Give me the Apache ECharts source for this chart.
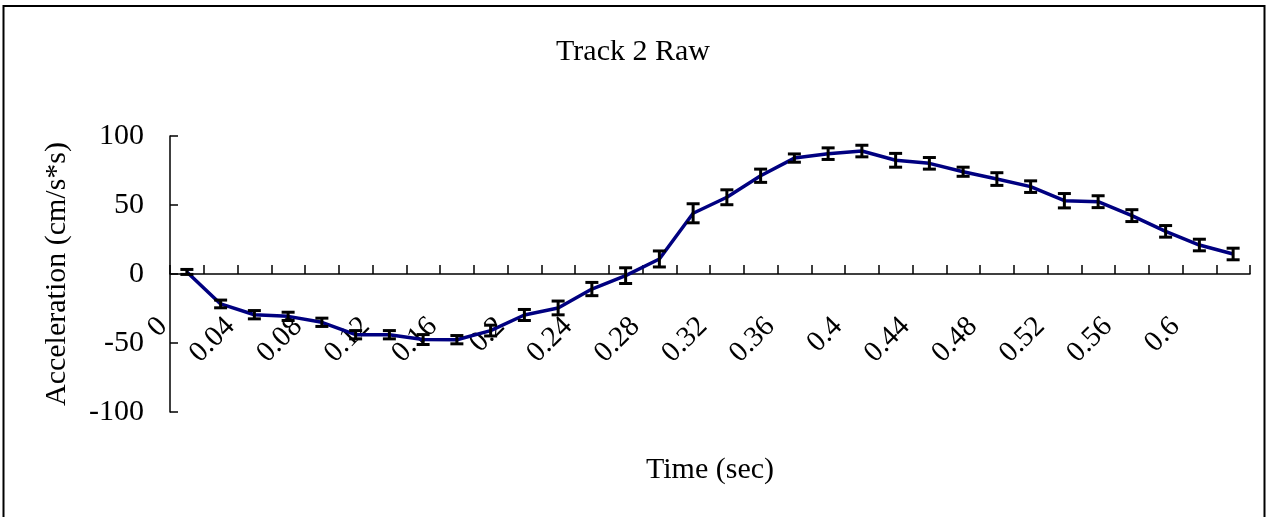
<!DOCTYPE html>
<html>
<head>
<meta charset="utf-8">
<script src="https://cdn.jsdelivr.net/npm/echarts@6/dist/echarts.min.js"></script>
<style>
html,body{margin:0;padding:0;background:#fff;}
#chart{width:1266px;height:517px;}
</style>
</head>
<body>
<div id="chart"></div>
<script>
const times = ['0','0.02','0.04','0.06','0.08','0.1','0.12','0.14','0.16','0.18','0.2','0.22','0.24','0.26','0.28','0.3','0.32','0.34','0.36','0.38','0.4','0.42','0.44','0.46','0.48','0.5','0.52','0.54','0.56','0.58','0.6','0.62'];
const accel = [1.5,-21.7,-29.5,-30.7,-35,-44,-44,-47.5,-47.6,-41,-29.7,-24.6,-10.9,-1.2,10.9,44,55.6,71.2,84,87.2,89.1,82.4,80.2,74.1,68.8,63.3,53.1,52.4,42.3,30.9,21,14.5];
const errs = [1.8,2.8,3,3,3,3,3,3.6,3,3.9,4,5,4.8,5.7,5.8,6.9,5.4,4.8,3,4.2,4.2,5,4.2,3.3,4.6,4.2,5.2,4.3,4.3,4.2,4.2,4.2];
const yTicks = [-100,-50,0,50,100];

const FONT = 'Liberation Serif';
const GRID = {left:170, right:16, top:136, bottom:105};
const H = 517;
const plotH = H - GRID.top - GRID.bottom;
const yMin = yTicks[0], yMax = yTicks[yTicks.length-1];
// move x axis up so it sits on the value-axis zero line
const zeroOffset = -plotH * (0 - yMin) / (yMax - yMin);

const chart = echarts.init(document.getElementById('chart'));
const errData = times.map((t,i)=>[i, accel[i], errs[i]]);

chart.setOption({
  backgroundColor:'#fff',
  animation:false,
  graphic:[{type:'rect', shape:{x:3.5,y:6,width:1261,height:530}, style:{fill:null, stroke:'#000', lineWidth:2}, silent:true, z:-1}],
  title:{text:'Track 2 Raw', left:'center', top:37, padding:0,
    textStyle:{fontFamily:FONT, fontSize:30, fontWeight:'normal', color:'#000'}},
  grid:Object.assign({containLabel:false, outerBoundsMode:'none'}, GRID),
  xAxis:{type:'category', data:times, boundaryGap:true, offset:zeroOffset,
    name:'Time (sec)', nameLocation:'middle', nameGap:181,
    nameTextStyle:{fontFamily:FONT, fontSize:30, color:'#000'},
    axisLine:{onZero:false, lineStyle:{color:'#000', width:1.5}},
    axisTick:{show:true, inside:true, length:9, interval:0, alignWithLabel:false, lineStyle:{color:'#000', width:1.5}},
    axisLabel:{interval:1, rotate:45, margin:24, padding:[0,34,0,0], fontFamily:FONT, fontSize:29, color:'#000'},
    splitLine:{show:false}},
  yAxis:{type:'value', min:yMin, max:yMax, interval:50,
    name:'Acceleration (cm/s*s)', nameLocation:'middle', nameGap:98,
    nameTextStyle:{fontFamily:FONT, fontSize:30, color:'#000'},
    axisLine:{show:true, onZero:false, lineStyle:{color:'#000', width:1.5}},
    axisTick:{show:true, inside:true, length:8, lineStyle:{color:'#000', width:1.5}},
    axisLabel:{margin:26, fontFamily:FONT, fontSize:30, color:'#000'},
    splitLine:{show:false}},
  series:[
    {type:'line', data:accel, symbol:'none', lineStyle:{color:'#000080', width:3.5}, z:2},
    {type:'custom', data:errData, encode:{x:0,y:1}, z:3,
      renderItem:function(params, api){
        const i = api.value(0), v = api.value(1), e = api.value(2);
        const hi = api.coord([i, v+e]);
        const lo = api.coord([i, v-e]);
        const hw = 6.5;
        const st = {stroke:'#000', lineWidth:3, fill:null};
        return {type:'group', children:[
          {type:'line', shape:{x1:hi[0],y1:hi[1],x2:lo[0],y2:lo[1]}, style:st},
          {type:'line', shape:{x1:hi[0]-hw,y1:hi[1],x2:hi[0]+hw,y2:hi[1]}, style:st},
          {type:'line', shape:{x1:lo[0]-hw,y1:lo[1],x2:lo[0]+hw,y2:lo[1]}, style:st}
        ]};
      }}
  ]
});
</script>
</body>
</html>
